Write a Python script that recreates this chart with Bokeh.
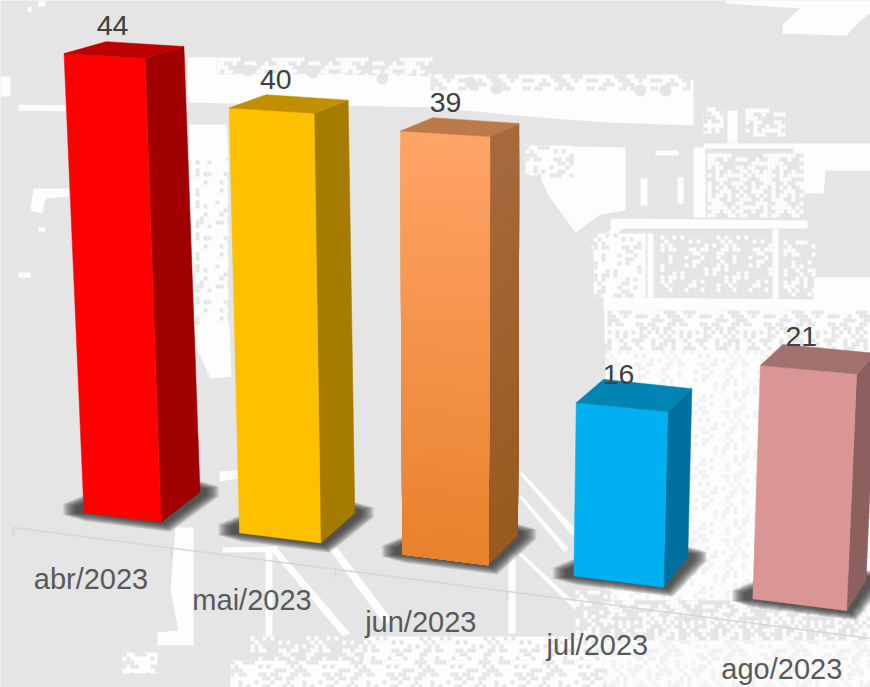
from bokeh.plotting import figure
from bokeh.embed import file_html
from bokeh.resources import INLINE
from bokeh.core.properties import value

# ---- chart data ----
categories = ["abr/2023", "mai/2023", "jun/2023", "jul/2023", "ago/2023"]
values = [44, 40, 39, 16, 21]
front_top = ["#FF0000", "#FFC000", "#FFA366", "#00B0F0", "#D99694"]
front_bot = ["#FF0000", "#FFC000", "#E8812C", "#00B0F0", "#D99694"]
side_top = ["#A00000", "#A67C00", "#A56A3E", "#00719F", "#8D6060"]
side_bot = ["#A00000", "#A67C00", "#98591D", "#00719F", "#8D6060"]
top_col = ["#BF0000", "#C09000", "#BC7A4B", "#0084B4", "#A37070"]
BG = "#E5E5E5"
WHITE = "#FDFDFD"
PALE = "#F1F1F1"
LABEL = "#404040"
TICK = "#595959"

W, H = 870, 687
p = figure(width=W, height=H, x_range=(0, W), y_range=(H, 0),
           toolbar_location=None, output_backend="svg", min_border=0,
           x_axis_location=None, y_axis_location=None)
p.grid.visible = False
p.outline_line_color = None
p.background_fill_color = BG
p.border_fill_color = BG


# ---- perspective projection of the 3-D column scene ----
def height(i, v):
    return v * (9.99 + 0.225 * i) * (1 + 0.001 * v)


def face(i, h):
    """front-left and front-right points of column i at pixel height h"""
    x0 = 83.5 + 151.6 * i + 3.9 * i * i
    y0 = 512 + 20 * i + 0.4 * i * i
    w = (77 + 4.2 * i) * (1 + 1.1e-4 * h)
    lx = x0 + (-0.0435 + 0.019 * i) * h
    ly = y0 - h
    return (lx, ly), (lx + w, ly + (0.125 - 0.00015 * h) * w)


def back(i, h, pt, extra=0):
    return (pt[0] + 39 - 4.9 * i + extra, pt[1] - (30 - 0.04 * h) - extra * 0.1)


def axis_xy(t):
    x = 13 + 154 * t + 3.5 * t * t
    return x, 527 + 0.1295 * (x - 13)


def mix(a, b, t):
    ca = [int(a[k:k + 2], 16) for k in (1, 3, 5)]
    cb = [int(b[k:k + 2], 16) for k in (1, 3, 5)]
    return "#%02X%02X%02X" % tuple(round(u + (v - u) * t) for u, v in zip(ca, cb))


def poly(xs, ys, cols, pts, col):
    xs.append([q[0] for q in pts])
    ys.append([q[1] for q in pts])
    cols.append(col)


# ---- washed-out photo behind the chart ----
solid = [
    [(187, 57), (216, 57), (216, 72), (693, 80), (693, 125), (610, 122), (550, 118), (435, 107), (187, 102)],
    [(725, 0), (870, 0), (870, 12), (858, 22), (846, 35), (782, 33), (782, 24), (800, 8), (725, 3)],
    [(38, 0), (45, 0), (45, 6), (38, 6)], [(27, 6), (31, 6), (31, 12), (27, 12)],
    [(18, 104), (66, 105), (66, 111), (18, 110)], [(0, 76), (10, 76), (10, 96), (0, 96)],
    [(33, 188), (68, 188), (68, 196), (45, 198), (42, 213), (30, 210)],
    [(18, 272), (30, 272), (30, 277), (18, 277)], [(38, 227), (45, 227), (45, 231), (38, 231)],
    [(188, 124), (226, 124), (228, 155), (200, 200), (205, 300), (229, 325), (231, 376), (210, 378), (195, 345), (192, 300)],
    [(219, 471), (238, 470), (238, 478), (219, 481)],
    [(175, 527), (193, 527), (193, 645), (157, 645), (157, 632), (178, 630), (170, 590)],
    [(265, 547), (272, 547), (272, 637), (265, 637)],
    [(222, 547), (277, 546), (277, 551), (222, 552)],
    [(268, 547), (276, 547), (350, 633), (342, 636)],
    [(328, 548), (336, 546), (392, 620), (384, 624)],
    [(518, 472), (522, 472), (576, 530), (572, 535)],
    [(518, 496), (522, 496), (568, 548), (564, 552)],
    [(517, 553), (522, 553), (604, 630), (600, 634)],
    [(508, 553), (515, 553), (515, 633), (508, 633)],
    [(793, 143), (870, 143), (870, 170), (825, 170), (823, 193), (793, 193)],
    [(703, 143), (793, 143), (793, 148), (703, 148)],
    [(693, 147), (705, 147), (705, 217), (693, 217)],
    [(813, 277), (870, 277), (870, 350), (813, 350)],
    [(610, 218), (807, 220), (807, 228), (610, 228)],
    [(590, 247), (622, 218), (627, 224), (596, 252)],
    [(603, 297), (817, 299), (817, 310), (603, 310)],
    [(604, 250), (610, 250), (610, 343), (604, 343)],
    [(647, 233), (653, 233), (653, 297), (647, 297)],
    [(772, 228), (778, 228), (778, 303), (772, 303)],
    [(727, 110), (737, 110), (737, 143), (727, 143)],
    [(655, 150), (678, 150), (678, 155), (655, 155)],
    [(640, 178), (647, 178), (647, 205), (640, 205)],
    [(677, 177), (683, 177), (683, 203), (677, 203)],
    [(525, 145), (625, 147), (625, 210), (600, 214), (575, 232), (548, 195)],
]
# regions of broken texture: x0, y0, x1, y1, base colour, fleck colour, flecks out of 16
mottled = [
    (703, 107, 723, 133, WHITE, BG, 6), (745, 108, 783, 135, BG, WHITE, 7),
    (707, 153, 803, 217, BG, WHITE, 8), (593, 233, 645, 297, WHITE, BG, 4),
    (660, 235, 770, 290, BG, WHITE, 3), (783, 240, 813, 295, BG, WHITE, 5),
    (607, 310, 870, 350, WHITE, BG, 6), (605, 350, 760, 600, WHITE, PALE, 3),
    (760, 350, 870, 610, WHITE, PALE, 3), (610, 600, 870, 640, BG, WHITE, 6),
    (603, 640, 870, 687, WHITE, PALE, 5), (363, 636, 603, 660, WHITE, BG, 3),
    (230, 660, 603, 687, WHITE, BG, 5), (250, 636, 363, 660, BG, WHITE, 4),
    (122, 652, 157, 673, WHITE, BG, 5), (195, 160, 228, 325, WHITE, BG, 2),
    (525, 145, 570, 175, WHITE, BG, 5), (575, 590, 610, 636, BG, WHITE, 5),
    (216, 57, 430, 74, BG, WHITE, 7), (430, 74, 690, 90, WHITE, BG, 6),
]
spots = [(248, 70), (312, 72), (382, 78), (470, 82), (496, 88), (640, 90), (665, 90)]

xs, ys, cs = [], [], []
for pts in solid:
    poly(xs, ys, cs, pts, WHITE)
CELL = 4
for x0, y0, x1, y1, base, fleck, dens in mottled:
    poly(xs, ys, cs, [(x0, y0), (x1, y0), (x1, y1), (x0, y1)], base)
    for a, gx in enumerate(range(x0, x1, CELL)):
        for b, gy in enumerate(range(y0, y1, CELL)):
            if (a * a * 5 + b * b * 3 + a * b * 7 + a + 2 * b) % 16 < dens:
                poly(xs, ys, cs, [(gx, gy), (gx + CELL, gy), (gx + CELL, gy + CELL), (gx, gy + CELL)], fleck)
p.patches(xs, ys, fill_color=cs, line_color=None)
p.scatter([q[0] for q in spots], [q[1] for q in spots], size=11, color=BG, marker="circle")

# ---- ground axis ----
n = len(categories)
axis_pts = [axis_xy(t) for t in range(n + 1)]
p.line([q[0] for q in axis_pts], [q[1] for q in axis_pts], line_color="#D6D6D6", line_width=1.5)
p.segment([q[0] for q in axis_pts], [q[1] for q in axis_pts],
          [q[0] for q in axis_pts], [q[1] + 8 for q in axis_pts],
          line_color="#D6D6D6", line_width=1.5)

# ---- soft shadows ----
sx, sy = [], []
for i in range(n):
    l, r = face(i, 0)
    br = back(i, 0, r)
    for k in range(13):
        e = 13 - 1.1 * k
        pts = [(l[0] - 8 - e, l[1] - 6 - e * 0.2), (l[0] - 8 - e, l[1] + 1 + e * 0.1),
               (l[0] + 2, l[1] + 1 + e * 0.6), (r[0] + 4 + e * 0.4, r[1] + 2 + e * 0.6),
               (br[0] + 6 + e, br[1] + 3 + e * 0.1), (br[0] + 6 + e, br[1] - 3 - e * 0.2),
               (br[0] - 2, br[1] - 5 - e * 0.5), (l[0] + 6, l[1] - 12 - e * 0.6)]
        sx.append([q[0] for q in pts])
        sy.append([q[1] for q in pts])
p.patches(sx, sy, fill_color="#2E2E2E", fill_alpha=0.11, line_color=None)

# ---- columns ----
fx, fy, fc = [], [], []
STEPS = 32
for i, v in enumerate(values):
    h = height(i, v)
    l0, r0 = face(i, 0)
    grad = front_top[i] != front_bot[i]
    steps = STEPS if grad else 1
    for s in range(steps):  # painted from the top down, each band reaching the base
        t = s / steps
        hs = h * (1 - t)
        l, r = face(i, hs)
        poly(fx, fy, fc, [back(i, hs, r), back(i, 0, r0), r0, r], mix(side_top[i], side_bot[i], t))
    for s in range(steps):
        t = s / steps
        hs = h * (1 - t)
        l, r = face(i, hs)
        poly(fx, fy, fc, [l, r, r0, l0], mix(front_top[i], front_bot[i], t))
    l, r = face(i, h)
    poly(fx, fy, fc, [l, back(i, h, l, 3), back(i, h, r), r], top_col[i])
p.patches(fx, fy, fill_color=fc, line_color=fc, line_width=0.5)

# ---- texts ----
BASE_SHIFT = 11.5  # the svg output draws "alphabetic" text this far below the anchor
lx, ly = [], []
tx, ty = [], []
for i, v in enumerate(values):
    l, r = face(i, height(i, v))
    lx.append((l[0] + r[0]) / 2 + 8 - 3.8 * i)
    ly.append(l[1] - 17 - BASE_SHIFT)
    b, _ = face(i, 0)
    tx.append(b[0] + 7 + 5.5 * i)
    ty.append(b[1] + 78 + 0.9 * i - BASE_SHIFT)
p.text(lx, ly, text=[str(v) for v in values], text_align="center", text_baseline="alphabetic",
       text_font=value("Liberation Sans"), text_font_size="28.5px", text_color=LABEL)
p.text(tx, ty, text=categories, text_align="center", text_baseline="alphabetic",
       text_font=value("Liberation Sans"), text_font_size="29px", text_color=TICK)

open("out.html", "w").write(file_html(p, INLINE))
